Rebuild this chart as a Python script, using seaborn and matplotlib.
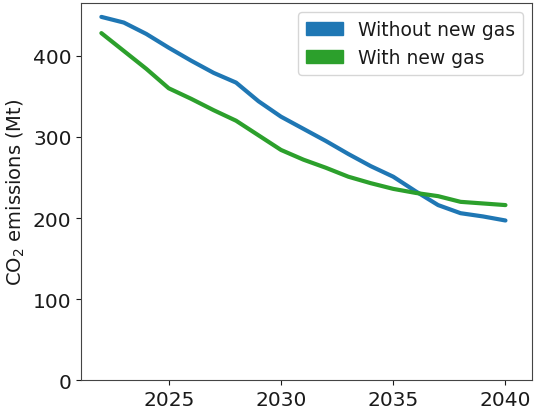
import numpy as np
import pandas as pd
import matplotlib
matplotlib.use("Agg")
import matplotlib.pyplot as plt
import seaborn as sns
from matplotlib.patches import Patch

years = list(range(2022, 2041))
without_gas = [448, 441, 427, 410, 394, 379, 367, 344, 325, 310, 295, 279, 264, 251, 233, 216, 206, 202, 197]
with_gas = [428, 406, 384, 360, 347, 333, 320, 302, 284, 272, 262, 251, 243, 236, 231, 227, 220, 218, 216]
series_names = ["Without new gas", "With new gas"]
colors = ["#1f77b4", "#2ca02c"]

df = pd.DataFrame({
    "year": years * 2,
    "value": without_gas + with_gas,
    "series": [series_names[0]] * len(years) + [series_names[1]] * len(years),
})

sns.set_style("ticks")
plt.rcParams["font.family"] = ["DejaVu Sans"]
plt.rcParams["text.color"] = "#1a1a1a"
plt.rcParams["axes.labelcolor"] = "#1a1a1a"
plt.rcParams["xtick.color"] = "#1a1a1a"
plt.rcParams["ytick.color"] = "#1a1a1a"

fig, ax = plt.subplots(figsize=(5.34, 4.10), dpi=100)
sns.lineplot(data=df, x="year", y="value", hue="series", palette=colors,
             linewidth=3.0, ax=ax, legend=False)
ax.set_ylim(0, 465)
ax.set_xlim(2021.1, 2041.2)
ax.set_xticks([2025, 2030, 2035, 2040])
ax.set_yticks([0, 100, 200, 300, 400])
ax.tick_params(labelsize=14.5)
ax.set_xlabel("")
ax.set_ylabel("CO$_2$ emissions (Mt)", fontsize=14)
handles = [Patch(color=c, label=n) for c, n in zip(colors, series_names)]
ax.legend(handles=handles, loc="upper right", fontsize=13.5)
for s in ax.spines.values():
    s.set_visible(True)
    s.set_color("#444444")
fig.subplots_adjust(left=0.152, right=0.997, top=0.99, bottom=0.07)
fig.savefig("out.png", dpi=100)
